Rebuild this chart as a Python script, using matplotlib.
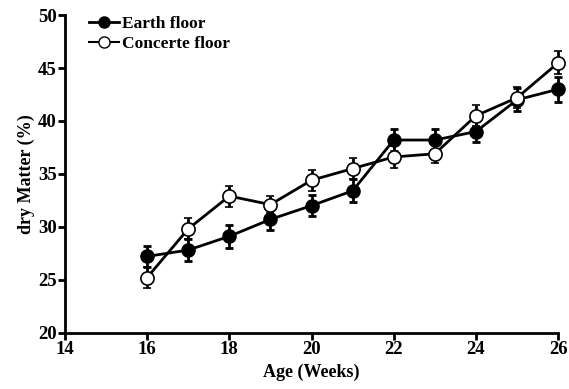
import numpy as np
import matplotlib.pyplot as plt
from matplotlib.lines import Line2D

plt.rcParams['font.family'] = ['Liberation Serif', 'DejaVu Serif']
plt.rcParams['font.weight'] = 'bold'

weeks = [16, 17, 18, 19, 20, 21, 22, 23, 24, 25, 26]
earth = [27.2, 27.8, 29.1, 30.7, 32.0, 33.4, 38.2, 38.2, 39.0, 42.0, 43.0]
earth_err = [1.0, 1.0, 1.1, 1.0, 1.0, 1.1, 1.0, 1.0, 1.0, 1.1, 1.2]
concrete = [25.2, 29.8, 32.9, 32.1, 34.4, 35.5, 36.6, 36.9, 40.5, 42.2, 45.5]
concrete_err = [1.0, 1.0, 1.0, 0.8, 1.0, 1.0, 1.0, 0.9, 1.0, 1.0, 1.1]

fig = plt.figure(figsize=(5.69, 3.89), dpi=100)
ax = fig.add_axes([0.114, 0.145, 0.867, 0.816])

ax.errorbar(weeks, earth, yerr=earth_err, fmt='-o', color='black',
            mfc='black', mec='black', ms=9.5, lw=2, elinewidth=2,
            capsize=3, capthick=2, zorder=3, clip_on=False)
ax.errorbar(weeks, concrete, yerr=concrete_err, fmt='-o', color='black',
            mfc='white', mec='black', ms=9.5, mew=1.2, lw=2, elinewidth=2,
            capsize=3, capthick=2, zorder=4, clip_on=False)

ax.set_xlim(14, 26)
ax.set_ylim(20, 50)
ax.set_xticks(np.arange(14, 27, 2))
ax.set_yticks(np.arange(20, 51, 5))
ax.set_xlabel('Age (Weeks)', fontsize=13, fontweight='bold', labelpad=4)
ax.set_ylabel('dry Matter (%)', fontsize=13, fontweight='bold', labelpad=2)
ax.tick_params(labelsize=13.5, width=2, length=5, direction='out', pad=1)
for lab in ax.get_xticklabels() + ax.get_yticklabels():
    lab.set_fontweight('bold')

for s in ['top', 'right']:
    ax.spines[s].set_visible(False)
for s in ['left', 'bottom']:
    ax.spines[s].set_linewidth(2)

handles = [
    Line2D([], [], color='black', lw=2, marker='o', ms=8, mfc='black'),
    Line2D([], [], color='black', lw=1.5, marker='o', ms=8, mfc='white'),
]
ax.legend(handles, ['Earth floor', 'Concerte floor'], loc='upper left',
          bbox_to_anchor=(0.035, 1.02), frameon=False, fontsize=12.5,
          handlelength=1.75, handletextpad=0.15, labelspacing=0.25,
          borderaxespad=0)

fig.savefig('out.png', dpi=100)
